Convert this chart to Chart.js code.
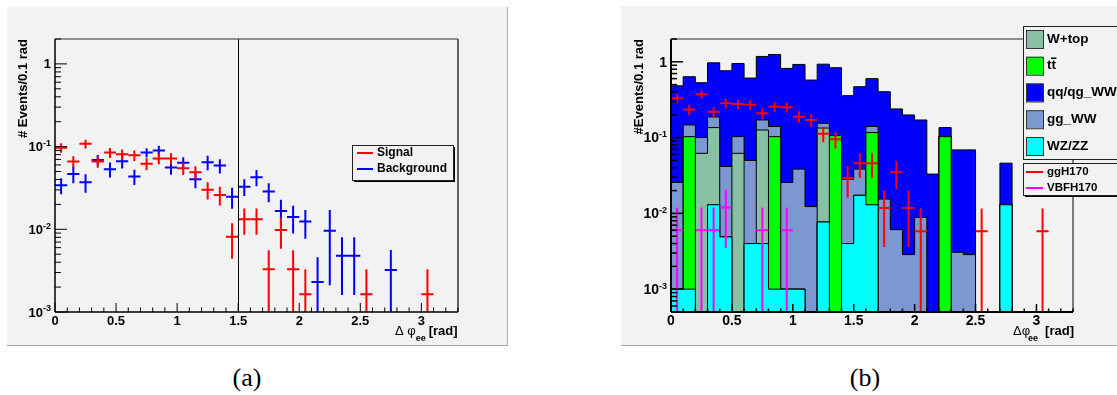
<!DOCTYPE html>
<html>
<head>
<meta charset="utf-8">
<script src="https://cdn.jsdelivr.net/npm/chart.js@4/dist/chart.umd.min.js"></script>
<style>
  html, body { margin: 0; padding: 0; background: #fff; width: 1117px; height: 395px; overflow: hidden; }
  .pad { position: absolute; background: #f2f2f2; border-right: 1px solid #a9a9a9; border-bottom: 1px solid #a9a9a9; box-sizing: border-box; }
  #padA { left: 7px; top: 7px; width: 501px; height: 339px; }
  #padB { left: 621px; top: 6px; width: 500px; height: 340px; }
  canvas { position: absolute; top: 0; }
  #chartA { left: 0; }
  #chartB { left: 600px; }
  .caption { position: absolute; top: 362px; width: 80px; text-align: center; font-family: "Liberation Serif", "DejaVu Serif", serif; font-size: 26px; line-height: 32px; color: #000; }
</style>
</head>
<body>
<div class="pad" id="padA"></div>
<div class="pad" id="padB"></div>
<canvas id="chartA" width="520" height="360"></canvas>
<canvas id="chartB" width="517" height="360"></canvas>
<div class="caption" style="left:207px">(a)</div>
<div class="caption" style="left:825px">(b)</div>

<script>
// ---------- binning and axes ----------
const binCenters = [0.05, 0.15, 0.25, 0.35, 0.45, 0.55, 0.65, 0.75, 0.85, 0.95,
                    1.05, 1.15, 1.25, 1.35, 1.45, 1.55, 1.65, 1.75, 1.85, 1.95,
                    2.05, 2.15, 2.25, 2.35, 2.45, 2.55, 2.65, 2.75, 2.85, 2.95,
                    3.05, 3.15, 3.25];
const binWidth = 0.1;
const xRange = [0, 3.3];
const xTickValues = [0, 0.5, 1, 1.5, 2, 2.5, 3];
const xTickLabels = ['0', '0.5', '1', '1.5', '2', '2.5', '3'];
const xMinorStep = 0.1;
const yDecadeExponents = [0, -1, -2, -3];
const cutValue = 1.5;

// ---------- panel (a): normalised shapes ----------
const signalA = [0.097, 0.066, 0.108, 0.066, 0.0846, 0.081, 0.0785, 0.062, 0.072, 0.072,
                 0.0547, 0.049, 0.030, 0.026, 0.0081, 0.0132, 0.0132, 0.00328, 0.0098, 0.00328,
                 0.00164, null, null, null, null, 0.00164, null, null, null, null,
                 0.00164, null, null];
const signalAErr = [0.0126, 0.0104, 0.0133, 0.0104, 0.0118, 0.0115, 0.0114, 0.0101, 0.0109, 0.0109,
                    0.0094, 0.0090, 0.0070, 0.0066, 0.0037, 0.0046, 0.0046, 0.0023, 0.0040, 0.0023,
                    0.00164, null, null, null, null, 0.00164, null, null, null, null,
                    0.00164, null, null];
const backgroundA = [0.034, 0.0467, 0.037, 0.069, 0.0532, 0.0665, 0.0434, 0.0846, 0.0895, 0.0557,
                     0.064, 0.0403, 0.0646, 0.0589, 0.0248, 0.0328, 0.0426, 0.0286, 0.0167, 0.0141,
                     0.0124, 0.00231, 0.0096, 0.0048, 0.0048, null, null, 0.00322, null, null,
                     null, null, null];
const backgroundAErr = [0.0075, 0.0106, 0.0093, 0.0100, 0.0110, 0.0120, 0.0090, 0.0110, 0.0130, 0.0100,
                        0.0105, 0.0090, 0.0130, 0.0115, 0.0071, 0.0075, 0.0095, 0.0074, 0.0060, 0.0052,
                        0.0047, 0.00227, 0.0075, 0.0032, 0.0032, null, null, 0.0024, null, null,
                        null, null, null];

// ---------- panel (b): stacked backgrounds (per-process contributions) ----------
const wzzz = [0.001, 0.001, 0, 0.013, 0.0049, 0, 0.004, 0.004, 0.001, 0.001,
              0.001, 0, 0.0077, 0, 0.004, 0.0173, 0.013, 0, 0, 0,
              0, 0, 0, 0, 0, 0, 0, 0.013, 0, 0,
              0, 0, 0];
const ttbar = [0, 0.102, 0, 0, 0, 0, 0, 0, 0.102, 0,
               0, 0, 0, 0.106, 0, 0, 0.1035, 0, 0, 0,
               0, 0, 0.103, 0, 0, 0, 0, 0, 0, 0,
               0, 0, 0];
const wtop = [0, 0, 0.062, 0.1225, 0, 0.062, 0, 0.122, 0, 0,
              0, 0, 0.126, 0, 0, 0, 0, 0, 0, 0,
              0, 0, 0, 0, 0, 0, 0, 0, 0, 0,
              0, 0, 0];
const ggWW = [0.0246, 0.044, 0.038, 0.0515, 0.0367, 0.041, 0.0459, 0.045, 0.037, 0.0246,
              0.0374, 0.0123, 0.021, 0, 0.0243, 0.0211, 0.0235, 0.01545, 0.0061, 0.00286,
              0.00887, 0, 0, 0.00307, 0.00286, 0, 0, 0, 0, 0,
              0, 0, 0];
const qqWW = [0.457, 0.489, 0.43, 0.783, 0.72, 0.847, 0.56, 1.006, 1.11, 0.792,
              0.885, 0.562, 0.776, 0.73, 0.329, 0.431, 0.46, 0.388, 0.233, 0.196,
              0.162, 0.033, 0.0325, 0.0658, 0.066, 0, 0, 0.033, 0, 0,
              0, 0, 0];

// ---------- panel (b): signal samples ----------
const ggH170 = [0.33, 0.234, 0.372, 0.22, 0.283, 0.277, 0.272, 0.209, 0.256, 0.252,
                0.189, 0.171, 0.112, 0.095, 0.0292, 0.046, 0.046, 0.0118, 0.035, 0.0118,
                0.0058, null, null, null, null, 0.0058, null, null, null, null,
                0.0058, null, null];
const ggH170Err = [0.0438, 0.0368, 0.0464, 0.0357, 0.0405, 0.0400, 0.0397, 0.0348, 0.0385, 0.0380,
                   0.0330, 0.0315, 0.0254, 0.0232, 0.0130, 0.0164, 0.0164, 0.0082, 0.0142, 0.0082,
                   0.0058, null, null, null, null, 0.0058, null, null, null, null,
                   0.0058, null, null];
const vbfH170 = [0.006, null, 0.006, 0.006, 0.012, null, null, 0.006, null, 0.006,
                 null, null, null, null, null, null, null, null, null, null,
                 null, null, null, null, null, null, null, null, null, null,
                 null, null, null];
const vbfH170Err = [0.006, null, 0.006, 0.006, 0.0085, null, null, 0.006, null, 0.006,
                    null, null, null, null, null, null, null, null, null, null,
                    null, null, null, null, null, null, null, null, null, null,
                    null, null, null];

// ---------- styling ----------
const SANS = '"Liberation Sans", Arial, Helvetica, sans-serif';
const FLOOR = 1e-7;   // stand-in for empty bins on the log axis
const COLORS = {
  wzzz: '#00ffff', ttbar: '#00ff00', wtop: '#87c0a3', ggWW: '#7b99d0', qqWW: '#0000ff',
  signal: '#ff0000', background: '#0000ff', vbf: '#ff00ff'
};

// ---------- helpers ----------
function points(values) {
  return values.map((v, i) => ({ x: binCenters[i], y: v }));
}
// cumulative tops of a stack, listed bottom -> top
function cumulate(layers) {
  const out = [];
  let run = binCenters.map(() => 0);
  layers.forEach(l => { run = run.map((v, i) => v + l[i]); out.push(run); });
  return out;
}
// step outline of a histogram: one point per lower bin edge plus the closing edge
function histPoints(tops) {
  const pts = tops.map((v, i) => ({ x: binCenters[i] - binWidth / 2, y: v > 0 ? v : FLOOR }));
  pts.push({ x: xRange[1], y: FLOOR });
  return pts;
}
function seg(ctx, x0, y0, x1, y1) { ctx.beginPath(); ctx.moveTo(x0, y0); ctx.lineTo(x1, y1); ctx.stroke(); }

// data points drawn as crosses: bin-wide horizontal bar and vertical error bar
const errorCrosses = {
  id: 'errorCrosses',
  afterDatasetsDraw(chart) {
    const { ctx, chartArea: a } = chart;
    const x = chart.scales.x, y = chart.scales.y;
    ctx.save();
    ctx.beginPath(); ctx.rect(a.left, a.top, a.width, a.height); ctx.clip();
    chart.data.datasets.forEach(ds => {
      if (!ds.errors) return;
      ctx.strokeStyle = ds.borderColor; ctx.lineWidth = ds.crossWidth;
      ds.data.forEach((p, i) => {
        if (p.y == null) return;
        const e = ds.errors[i];
        const px = x.getPixelForValue(p.x);
        const py = y.getPixelForValue(p.y);
        const lo = p.y - e;
        const pyLo = lo > 1e-9 ? Math.min(y.getPixelForValue(lo), a.bottom) : a.bottom;
        const pyHi = y.getPixelForValue(p.y + e);
        ctx.beginPath();
        ctx.moveTo(x.getPixelForValue(p.x - binWidth / 2), py);
        ctx.lineTo(x.getPixelForValue(p.x + binWidth / 2), py);
        ctx.moveTo(px, pyLo); ctx.lineTo(px, pyHi);
        ctx.stroke();
      });
    });
    ctx.restore();
  }
};

function drawPower(ctx, exp, xRight, yMid, o) {
  ctx.textAlign = 'right'; ctx.textBaseline = 'middle'; ctx.fillStyle = '#000';
  if (exp === 0) { ctx.font = o.labelFont; ctx.fillText('1', xRight, yMid); return; }
  const sup = String(exp);
  ctx.font = o.supFont;
  const w = ctx.measureText(sup).width;
  ctx.fillText(sup, xRight, yMid - o.supRaise);
  ctx.font = o.labelFont;
  ctx.fillText('10', xRight - w, yMid);
}

// frame, ticks, tick labels and axis titles
const rootAxes = {
  id: 'rootAxes',
  afterDatasetsDraw(chart, args, o) {
    const { ctx, chartArea: a } = chart;
    const x = chart.scales.x, y = chart.scales.y;
    ctx.save();
    ctx.lineCap = 'butt';
    if (o.cut !== undefined) {
      const cx = Math.round(x.getPixelForValue(o.cut)) + 0.5;
      ctx.strokeStyle = '#000'; ctx.lineWidth = 1;
      seg(ctx, cx, a.top, cx, a.bottom);
    }
    ctx.lineWidth = o.topWidth; ctx.strokeStyle = o.topColor;
    seg(ctx, a.left, a.top, a.right, a.top);
    ctx.lineWidth = o.rightWidth; ctx.strokeStyle = o.rightColor;
    seg(ctx, a.right, a.top, a.right, a.bottom);
    ctx.lineWidth = o.axisWidth; ctx.strokeStyle = '#000';
    seg(ctx, a.left, a.top, a.left, a.bottom);
    seg(ctx, a.left, a.bottom, a.right, a.bottom);

    // x ticks
    ctx.lineWidth = o.tickWidth;
    const nx = Math.round((xRange[1] - xRange[0]) / xMinorStep);
    for (let k = 0; k <= nx; k++) {
      const v = xRange[0] + k * xMinorStep;
      const px = x.getPixelForValue(v);
      seg(ctx, px, a.bottom, px, a.bottom - (k % 5 === 0 ? o.xMajor : o.xMinor));
    }
    // y ticks (log decades with 2..9 subdivisions)
    const dLo = Math.floor(Math.log10(y.min)), dHi = Math.ceil(Math.log10(y.max));
    for (let d = dLo; d <= dHi; d++) {
      for (let m = 1; m <= 9; m++) {
        const v = m * Math.pow(10, d);
        if (v < y.min * 0.999 || v > y.max * 1.001) continue;
        const py = y.getPixelForValue(v);
        seg(ctx, a.left, py, a.left + (m === 1 ? o.yMajor : o.yMinor), py);
      }
    }
    // tick labels
    ctx.fillStyle = '#000'; ctx.font = o.labelFont;
    ctx.textAlign = 'center'; ctx.textBaseline = 'middle';
    xTickValues.forEach((v, i) => ctx.fillText(xTickLabels[i], x.getPixelForValue(v) + o.xLabelShift, a.bottom + o.xLabelGap));
    yDecadeExponents.forEach(e => drawPower(ctx, e, a.left - o.yLabelGap, y.getPixelForValue(Math.pow(10, e)) + 1, o));

    // y title, right-aligned to the top of the frame
    ctx.save();
    ctx.translate(o.yTitleX, a.top);
    ctx.rotate(-Math.PI / 2);
    ctx.font = o.titleFont; ctx.textAlign = 'right'; ctx.textBaseline = 'middle';
    ctx.fillText(o.yTitle, 0, 0);
    ctx.restore();

    // x title: symbol, subscript, unit
    let tx = a.right + o.xTitleStart;
    const ty = o.xTitleY;
    ctx.textAlign = 'left'; ctx.textBaseline = 'middle';
    ctx.font = o.symbolFont; ctx.fillText(o.xTitleSymbol, tx, ty);
    tx += ctx.measureText(o.xTitleSymbol).width + o.subGap;
    ctx.font = o.subFont; ctx.fillText(o.xTitleSub, tx, ty + o.subDrop);
    tx += ctx.measureText(o.xTitleSub).width + o.unitGap;
    ctx.font = o.titleFont; ctx.fillText(o.xTitleUnit, tx, ty);
    ctx.restore();
  }
};

// boxed legends
const rootLegend = {
  id: 'rootLegend',
  afterDraw(chart, args, o) {
    const ctx = chart.ctx;
    ctx.save();
    o.boxes.forEach(b => {
      if (b.shadow) {
        ctx.fillStyle = '#000';
        ctx.fillRect(b.x + b.shadow, b.y + b.shadow, b.w, b.h);
      }
      ctx.fillStyle = '#f2f2f2';
      ctx.fillRect(b.x, b.y, b.w, b.h);
      ctx.strokeStyle = '#222'; ctx.lineWidth = 1;
      ctx.strokeRect(b.x + 0.5, b.y + 0.5, b.w, b.h);
      b.entries.forEach((en, i) => {
        const cy = b.row0 + i * b.rowStep;
        if (en.kind === 'box') {
          ctx.fillStyle = en.color;
          ctx.fillRect(b.markX, cy - b.markH / 2, b.markW, b.markH);
          ctx.strokeStyle = '#333'; ctx.lineWidth = 1;
          ctx.strokeRect(b.markX + 0.5, cy - b.markH / 2 + 0.5, b.markW, b.markH);
        } else {
          ctx.strokeStyle = en.color; ctx.lineWidth = 2;
          seg(ctx, b.markX, cy, b.markX + b.markW, cy);
        }
        ctx.fillStyle = '#000'; ctx.font = b.font;
        ctx.textAlign = 'left'; ctx.textBaseline = 'middle';
        ctx.fillText(en.label, b.textX, cy);
        if (en.overbar) {
          const wAll = ctx.measureText(en.label).width;
          const wLast = ctx.measureText(en.label.slice(-1)).width;
          ctx.strokeStyle = '#000'; ctx.lineWidth = 1.5;
          seg(ctx, b.textX + wAll - wLast - 0.5, cy - 7.5, b.textX + wAll + 0.5, cy - 7.5);
        }
      });
    });
    ctx.restore();
  }
};

// ---------- panel (a) ----------
new Chart(document.getElementById('chartA'), {
  type: 'line',
  data: {
    datasets: [
      { label: 'Background', data: points(backgroundA), errors: backgroundAErr,
        borderColor: COLORS.background, crossWidth: 2, showLine: false, pointRadius: 0 },
      { label: 'Signal', data: points(signalA), errors: signalAErr,
        borderColor: COLORS.signal, crossWidth: 2, showLine: false, pointRadius: 0 }
    ]
  },
  options: {
    responsive: false, animation: false, events: [],
    layout: { padding: { left: 55, top: 39, right: 62, bottom: 48 } },
    scales: {
      x: { type: 'linear', display: false, min: xRange[0], max: xRange[1], bounds: 'data' },
      y: { type: 'logarithmic', display: false, min: 1e-3, max: 2, bounds: 'data' }
    },
    plugins: {
      legend: { display: false }, tooltip: { enabled: false },
      rootAxes: {
        cut: cutValue,
        topColor: '#333', topWidth: 1, rightColor: '#333', rightWidth: 1.5, axisWidth: 1.5, tickWidth: 1,
        xMajor: 9, xMinor: 4.5, yMajor: 12, yMinor: 6,
        labelFont: 'bold 13px ' + SANS, supFont: 'bold 9px ' + SANS, supRaise: 4,
        xLabelGap: 9, xLabelShift: 0, yLabelGap: 4,
        titleFont: 'bold 13px ' + SANS, yTitle: '# Events/0.1 rad', yTitleX: 23,
        symbolFont: '13px ' + SANS, xTitleSymbol: 'Δ φ', subFont: 'bold 9px ' + SANS, xTitleSub: 'ee',
        xTitleStart: -63, xTitleY: 331, subGap: 0, subDrop: 8, unitGap: 3, xTitleUnit: '[rad]'
      },
      rootLegend: {
        boxes: [{
          x: 352, y: 145, w: 101, h: 35, shadow: 2,
          row0: 153, rowStep: 16, markX: 357, markW: 16, markH: 0, textX: 377,
          font: 'bold 12px ' + SANS,
          entries: [
            { kind: 'line', color: COLORS.signal, label: 'Signal' },
            { kind: 'line', color: COLORS.background, label: 'Background' }
          ]
        }]
      }
    }
  },
  plugins: [errorCrosses, rootAxes, rootLegend]
});

// ---------- panel (b) ----------
const stackOrder = [wzzz, ttbar, wtop, ggWW, qqWW];           // bottom -> top
const [topWZ, topTT, topWT, topGG, topQQ] = cumulate(stackOrder);
const histStyle = { borderColor: '#000', borderWidth: 1, pointRadius: 0, stepped: 'before', fill: 'start' };

new Chart(document.getElementById('chartB'), {
  type: 'line',
  data: {
    datasets: [
      { label: 'ggH170', data: points(ggH170), errors: ggH170Err,
        borderColor: COLORS.signal, crossWidth: 2, showLine: false, pointRadius: 0 },
      { label: 'VBFH170', data: points(vbfH170), errors: vbfH170Err,
        borderColor: COLORS.vbf, crossWidth: 2, showLine: false, pointRadius: 0 },
      Object.assign({ label: 'WZ/ZZ', data: histPoints(topWZ), backgroundColor: COLORS.wzzz }, histStyle),
      Object.assign({ label: 'tt', data: histPoints(topTT), backgroundColor: COLORS.ttbar }, histStyle),
      Object.assign({ label: 'W+top', data: histPoints(topWT), backgroundColor: COLORS.wtop }, histStyle),
      Object.assign({ label: 'gg_WW', data: histPoints(topGG), backgroundColor: COLORS.ggWW }, histStyle),
      Object.assign({ label: 'qq/qg_WW', data: histPoints(topQQ), backgroundColor: COLORS.qqWW }, histStyle)
    ]
  },
  options: {
    responsive: false, animation: false, events: [],
    layout: { padding: { left: 71, top: 39, right: 44, bottom: 48 } },
    scales: {
      x: { type: 'linear', display: false, min: xRange[0], max: xRange[1], bounds: 'data' },
      y: { type: 'logarithmic', display: false, min: 5e-4, max: 2, bounds: 'data' }
    },
    plugins: {
      legend: { display: false }, tooltip: { enabled: false },
      rootAxes: {
        topColor: '#6a6a6a', topWidth: 1.5, rightColor: '#000', rightWidth: 1, axisWidth: 2, tickWidth: 1.5,
        xMajor: 8, xMinor: 3.5, yMajor: 12, yMinor: 6,
        labelFont: 'bold 14px ' + SANS, supFont: 'bold 9px ' + SANS, supRaise: 4,
        xLabelGap: 9, xLabelShift: 0, yLabelGap: 4,
        titleFont: 'bold 13px ' + SANS, yTitle: '#Events/0.1 rad', yTitleX: 39,
        symbolFont: '13px ' + SANS, xTitleSymbol: 'Δφ', subFont: 'bold 9px ' + SANS, xTitleSub: 'ee',
        xTitleStart: -60, xTitleY: 331, subGap: -2, subDrop: 8, unitGap: 7, xTitleUnit: '[rad]'
      },
      rootLegend: {
        boxes: [{
          x: 423, y: 26, w: 120, h: 133, shadow: 0,
          row0: 39, rowStep: 26.75, markX: 426, markW: 17, markH: 18, textX: 447,
          font: 'bold 13.5px ' + SANS,
          entries: [
            { kind: 'box', color: COLORS.wtop, label: 'W+top' },
            { kind: 'box', color: COLORS.ttbar, label: 'tt', overbar: true },
            { kind: 'box', color: COLORS.qqWW, label: 'qq/qg_WW' },
            { kind: 'box', color: COLORS.ggWW, label: 'gg_WW' },
            { kind: 'box', color: COLORS.wzzz, label: 'WZ/ZZ' }
          ]
        }, {
          x: 423, y: 163, w: 120, h: 32, shadow: 2,
          row0: 172, rowStep: 16, markX: 426, markW: 17, markH: 0, textX: 447,
          font: 'bold 11.5px ' + SANS,
          entries: [
            { kind: 'line', color: COLORS.signal, label: 'ggH170' },
            { kind: 'line', color: COLORS.vbf, label: 'VBFH170' }
          ]
        }]
      }
    }
  },
  plugins: [errorCrosses, rootAxes, rootLegend]
});
</script>
</body>
</html>
